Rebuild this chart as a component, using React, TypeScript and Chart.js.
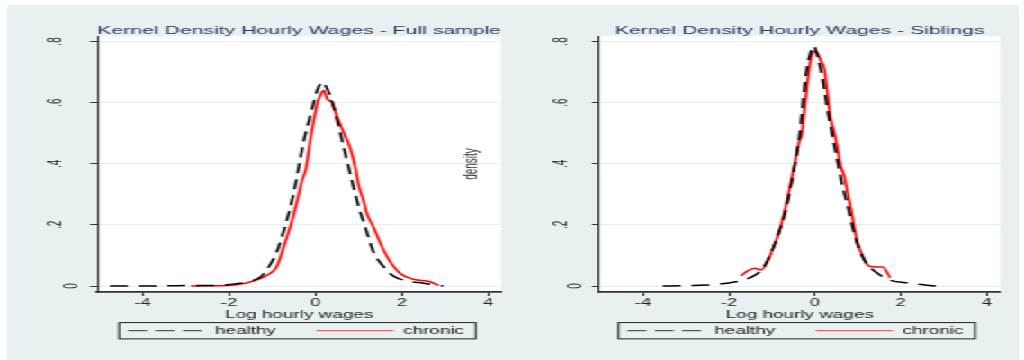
import React, { useEffect, useRef } from 'react';
import { Chart, registerables } from 'chart.js';

Chart.register(...registerables);

// ---------- data ----------
const seriesNames = ['healthy', 'chronic'];
const panelTitles = ['Kernel Density Hourly Wages - Full sample', 'Kernel Density Hourly Wages - Siblings'];
const xAxisTitle = 'Log hourly wages';
const yAxisTitle = 'density';
const xTickValues = [-4, -2, 0, 2, 4];
const yTickValues = [0, 0.2, 0.4, 0.6, 0.8];

const fullHealthyX = [-4.76, -4.0, -3.2, -2.6, -2.34, -2.0, -1.5, -1.27, -1.08, -0.88, -0.73, -0.58, -0.46, -0.36, -0.27, -0.15, -0.04, 0.04, 0.16, 0.27, 0.35, 0.42, 0.54, 0.69, 0.84, 1.0, 1.15, 1.34, 1.54, 1.8, 2.11, 2.5, 2.96];
const fullHealthyY = [0, 0, 0.001, 0.002, 0.002, 0.005, 0.016, 0.03, 0.063, 0.117, 0.183, 0.259, 0.335, 0.411, 0.476, 0.541, 0.601, 0.64, 0.667, 0.645, 0.618, 0.585, 0.52, 0.433, 0.346, 0.259, 0.193, 0.112, 0.069, 0.033, 0.017, 0.009, 0];

const fullChronicX = [-2.88, -2.5, -2.2, -1.88, -1.42, -1.11, -0.9, -0.72, -0.54, -0.42, -0.31, -0.23, -0.19, -0.11, -0.04, 0.04, 0.11, 0.19, 0.27, 0.38, 0.5, 0.65, 0.81, 0.92, 1.0, 1.11, 1.19, 1.34, 1.54, 1.73, 1.96, 2.27, 2.65, 2.85];
const fullChronicY = [0, 0.001, 0.001, 0.003, 0.017, 0.036, 0.062, 0.135, 0.215, 0.28, 0.346, 0.378, 0.411, 0.487, 0.541, 0.596, 0.623, 0.64, 0.612, 0.601, 0.554, 0.503, 0.449, 0.389, 0.329, 0.28, 0.237, 0.193, 0.128, 0.079, 0.041, 0.022, 0.014, 0.002];

const sibHealthyX = [-3.54, -3.0, -2.53, -2.0, -1.6, -1.4, -1.2, -1.0, -0.85, -0.7, -0.57, -0.45, -0.36, -0.3, -0.25, -0.19, -0.12, -0.03, 0.06, 0.18, 0.29, 0.41, 0.53, 0.64, 0.76, 0.87, 0.99, 1.14, 1.29, 1.49, 1.68, 2.19, 2.81];
const sibHealthyY = [0, 0.001, 0.003, 0.01, 0.022, 0.035, 0.06, 0.115, 0.17, 0.235, 0.32, 0.41, 0.49, 0.57, 0.64, 0.71, 0.755, 0.785, 0.752, 0.676, 0.578, 0.49, 0.404, 0.327, 0.262, 0.196, 0.136, 0.087, 0.06, 0.038, 0.022, 0.009, 0];

const sibChronicX = [-1.72, -1.56, -1.4, -1.25, -1.12, -0.98, -0.85, -0.71, -0.58, -0.47, -0.37, -0.3, -0.24, -0.17, -0.1, -0.04, 0.02, 0.14, 0.22, 0.29, 0.37, 0.45, 0.53, 0.6, 0.68, 0.76, 0.84, 0.91, 0.99, 1.11, 1.26, 1.42, 1.57, 1.75];
const sibChronicY = [0.033, 0.05, 0.058, 0.052, 0.075, 0.12, 0.17, 0.24, 0.325, 0.4, 0.47, 0.5, 0.58, 0.67, 0.74, 0.765, 0.768, 0.736, 0.709, 0.632, 0.545, 0.502, 0.447, 0.393, 0.36, 0.305, 0.25, 0.196, 0.142, 0.098, 0.065, 0.062, 0.062, 0.027];

// ---------- styling ----------
const FONT = "'Liberation Sans', Arial, Helvetica, sans-serif";
const BASE_W = 569;
const SX = 1024 / BASE_W;
const BG = '#e8f0f2';
const GRID = '#e6eef0';
const AXIS = '#333333';
const TITLE_COLOR = '#243a5e';
const HEALTHY_COLOR = '#000000';
const CHRONIC_COLOR = '#ff0000';
const LEGEND_STROKES = ['#555555', '#ff5a5a'];
const LEGEND_FONT = 10.5;
const LEGEND_PAD = 22.4;
const X_AXIS_H = 16;

Chart.defaults.font.family = FONT;

const toPoints = (xs: number[], ys: number[]) => xs.map((x, i) => ({ x, y: ys[i] }));
const fmtY = (v: number) => (v === 0 ? ['', '0'] : String(v).replace(/^0\./, '.'));

const plotBg = {
  id: 'plotBg',
  beforeDraw(chart: any) {
    const { ctx, chartArea } = chart;
    if (!chartArea) return;
    ctx.save();
    ctx.fillStyle = '#ffffff';
    ctx.fillRect(chartArea.left, chartArea.top, chartArea.right - chartArea.left, chartArea.bottom - chartArea.top);
    ctx.restore();
  },
};

const legendFrame = {
  id: 'legendFrame',
  afterDraw(chart: any) {
    const lg = chart.legend;
    if (!lg || !lg.legendHitBoxes || !lg.legendHitBoxes.length) return;
    const hb = lg.legendHitBoxes;
    const first = hb[0];
    const last = hb[hb.length - 1];
    const cy = first.top + first.height / 2;
    const x0 = first.left - 5;
    const x1 = last.left + last.width + 6.5;
    const ctx = chart.ctx;
    ctx.save();
    ctx.strokeStyle = '#222222';
    ctx.lineWidth = 1;
    ctx.setLineDash([]);
    ctx.strokeRect(x0, cy - 8.1, x1 - x0, 16.3);
    ctx.restore();
  },
};

type PanelSpec = {
  left: number;
  width: number;
  plotLeft: number;
  plotRight: number;
  yTickPad: number;
  xMin: number;
  xMax: number;
  showYTitle: boolean;
  title: string;
  hx: number[];
  hy: number[];
  cx: number[];
  cy: number[];
};

// positions are in the un-stretched drawing space (569 px wide, stretched to 1024)
const panels: PanelSpec[] = [
  {
    left: 0, width: 329.9, plotLeft: 54.1, plotRight: 279.3, yTickPad: 14.3,
    xMin: -5.05, xMax: 4.295, showYTitle: false, title: panelTitles[0],
    hx: fullHealthyX, hy: fullHealthyY, cx: fullChronicX, cy: fullChronicY,
  },
  {
    left: 250, width: 384.3, plotLeft: 82.9, plotRight: 306.1, yTickPad: 12.8,
    xMin: -5.02, xMax: 4.31, showYTitle: true, title: panelTitles[1],
    hx: sibHealthyX, hy: sibHealthyY, cx: sibChronicX, cy: sibChronicY,
  },
];

function makeConfig(p: PanelSpec): any {
  return {
    type: 'line',
    data: {
      datasets: [
        {
          label: seriesNames[0],
          data: toPoints(p.hx, p.hy),
          borderColor: HEALTHY_COLOR,
          backgroundColor: HEALTHY_COLOR,
          borderWidth: 1.5,
          borderDash: [10, 6],
          pointRadius: 0,
          fill: false,
          cubicInterpolationMode: 'monotone',
          yAxisID: 'y',
        },
        {
          label: seriesNames[1],
          data: toPoints(p.cx, p.cy),
          borderColor: CHRONIC_COLOR,
          backgroundColor: CHRONIC_COLOR,
          borderWidth: 1.5,
          pointRadius: 0,
          fill: false,
          cubicInterpolationMode: 'monotone',
          yAxisID: 'y',
        },
      ],
    },
    options: {
      responsive: false,
      animation: false,
      devicePixelRatio: 1,
      events: [],
      layout: { autoPadding: false, padding: { left: 0, right: 0, top: 21.9, bottom: 22 } },
      plugins: {
        title: {
          display: true,
          text: p.title,
          fullSize: false,
          color: TITLE_COLOR,
          font: { family: FONT, size: 11.8, weight: 'normal' },
          padding: { top: 2, bottom: -2 },
        },
        legend: {
          display: true,
          position: 'bottom',
          align: 'center',
          fullSize: true,
          maxHeight: 30,
          title: { display: true, text: ' ', font: { family: FONT, size: 1 }, padding: { top: 0, bottom: -6.15 } },
          labels: {
            usePointStyle: true,
            pointStyleWidth: 43,
            padding: LEGEND_PAD,
            color: '#222222',
            font: { family: FONT, size: LEGEND_FONT },
            generateLabels: (chart: any) =>
              (Chart.defaults.plugins.legend.labels as any).generateLabels(chart).map((it: any, i: number) => ({
                ...it,
                pointStyle: 'line',
                strokeStyle: LEGEND_STROKES[i],
                lineWidth: 1.3,
                lineDash: i === 0 ? [10.5, 4.7] : [],
              })),
          },
        },
        tooltip: { enabled: false },
      },
      scales: {
        x: {
          type: 'linear',
          position: 'bottom',
          min: p.xMin,
          max: p.xMax,
          afterBuildTicks: (s: any) => {
            s.ticks = xTickValues.map((v) => ({ value: v }));
          },
          afterFit: (s: any) => {
            s.height = X_AXIS_H;
          },
          grid: { drawOnChartArea: false, drawTicks: true, tickLength: 4, tickColor: AXIS, tickWidth: 1 },
          border: { display: true, color: AXIS, width: 1.7 },
          ticks: { color: '#222222', font: { family: FONT, size: 10 }, padding: 0.8, minRotation: 0, maxRotation: 0, autoSkip: false },
          title: {
            display: true,
            text: xAxisTitle,
            color: '#222222',
            font: { family: FONT, size: 10.5 },
            padding: { top: 0, bottom: -13.5 },
          },
        },
        y: {
          type: 'linear',
          position: 'left',
          min: -0.0196,
          max: 0.8177,
          afterBuildTicks: (s: any) => {
            s.ticks = yTickValues.map((v) => ({ value: v }));
          },
          afterFit: (s: any) => {
            s.width = p.plotLeft;
          },
          grid: { color: GRID, lineWidth: 1, drawTicks: true, tickLength: 4, tickColor: AXIS, tickWidth: 1 },
          border: { display: true, color: AXIS, width: 1.1 },
          ticks: {
            color: '#222222',
            font: { family: FONT, size: 10, lineHeight: 1.72 },
            padding: p.yTickPad,
            minRotation: 90,
            maxRotation: 90,
            crossAlign: 'center',
            autoSkip: false,
            callback: (v: any) => fmtY(Number(v)),
          },
          title: {
            display: p.showYTitle,
            text: yAxisTitle,
            color: '#333333',
            font: { family: FONT, size: 10 },
            padding: { top: 6.2, bottom: 0 },
          },
        },
        // empty spacer on the right so the plot ends where the reference's does
        yPad: {
          type: 'linear',
          position: 'right',
          display: true,
          afterFit: (s: any) => {
            s.width = p.width - p.plotRight;
          },
          grid: { display: false, drawTicks: false },
          border: { display: false },
          ticks: { display: false },
          title: { display: false },
        },
      },
    },
    plugins: [plotBg, legendFrame],
  };
}

function Panel({ spec }: { spec: PanelSpec }) {
  const ref = useRef<HTMLCanvasElement | null>(null);
  useEffect(() => {
    if (!ref.current) return;
    const chart = new Chart(ref.current, makeConfig(spec));
    return () => chart.destroy();
  }, [spec]);
  return (
    <canvas
      ref={ref}
      width={spec.width}
      height={360}
      style={{ position: 'absolute', left: spec.left, top: 0 }}
    />
  );
}

export default function App() {
  return (
    <div style={{ position: 'absolute', left: 0, top: 0, width: 1024, height: 360, overflow: 'hidden', background: '#ffffff' }}>
      <div
        style={{
          position: 'absolute',
          left: 0,
          top: 0,
          width: BASE_W,
          height: 360,
          transform: `scaleX(${SX})`,
          transformOrigin: '0 0',
        }}
      >
        <div style={{ position: 'absolute', left: 3.9, top: 5, width: 562.2, height: 355, background: BG }} />
        {panels.map((p, i) => (
          <Panel key={i} spec={p} />
        ))}
      </div>
    </div>
  );
}
